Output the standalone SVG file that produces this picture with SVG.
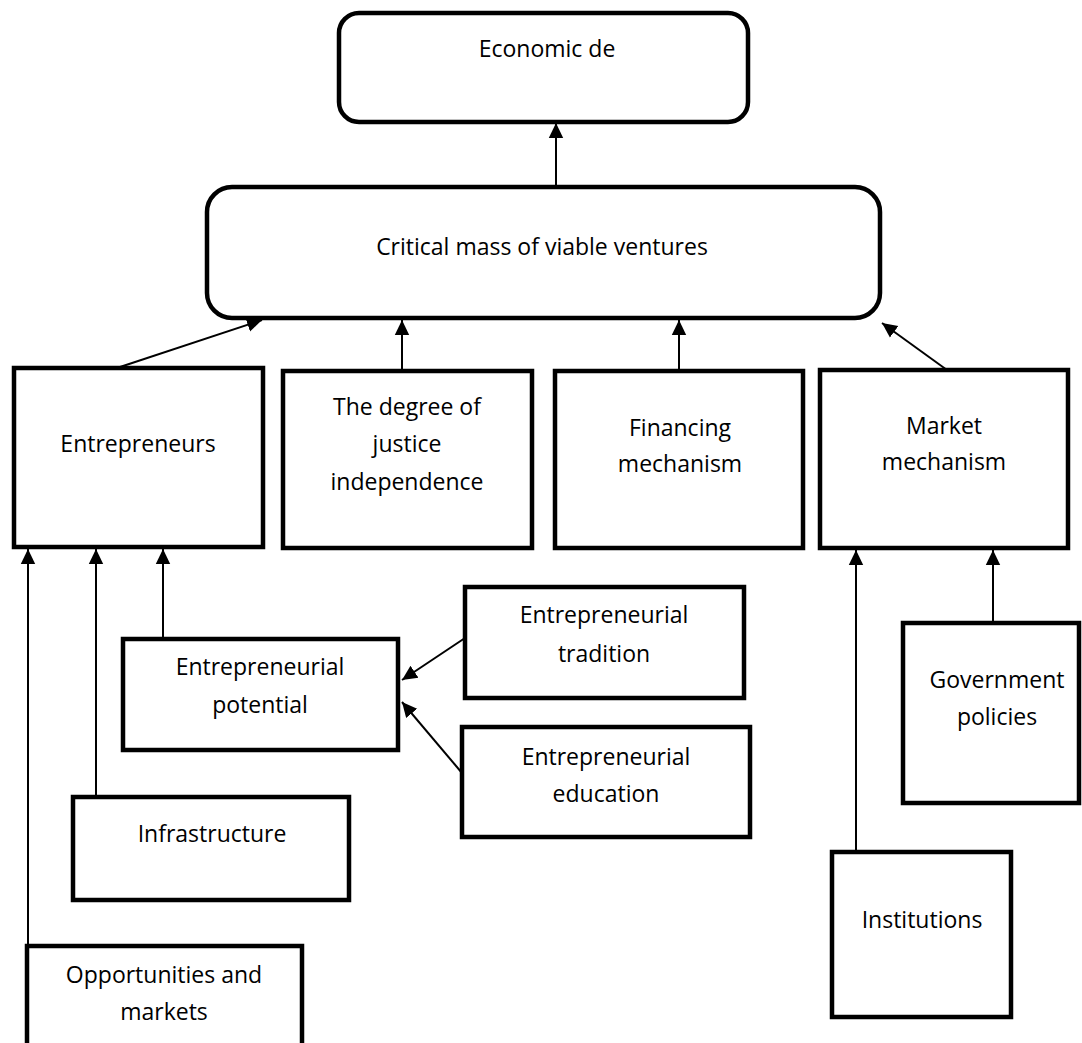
<svg xmlns="http://www.w3.org/2000/svg" width="1082" height="1043" viewBox="0 0 1082 1043">
<style>
.box{fill:#fff;stroke:#000;stroke-width:4.5}
.lbl{font-family:"Open Sans","Liberation Sans",sans-serif;font-size:23px;fill:#000;text-anchor:middle}
.con{stroke:#000;stroke-width:2;fill:none;marker-end:url(#ah)}
</style>
<defs>
<marker id="ah" markerUnits="userSpaceOnUse" markerWidth="16" markerHeight="16" viewBox="0 0 16 16" refX="15" refY="8" orient="auto">
<path d="M0,0.8 L15,8 L0,15.2 Z" fill="#000"/>
</marker>
</defs>
<rect width="1082" height="1043" fill="#fff"/>
<g id="connectors">
<line class="con" x1="556" y1="186" x2="556" y2="123"/>
<line class="con" x1="120" y1="367" x2="262" y2="320"/>
<line class="con" x1="402" y1="371" x2="402" y2="320"/>
<line class="con" x1="679" y1="371" x2="679" y2="320"/>
<line class="con" x1="947" y1="370" x2="882" y2="323"/>
<line class="con" x1="28" y1="946" x2="28" y2="549"/>
<line class="con" x1="96" y1="797" x2="96" y2="549"/>
<line class="con" x1="163" y1="639" x2="163" y2="549"/>
<line class="con" x1="465" y1="638" x2="402" y2="680"/>
<line class="con" x1="462" y1="773" x2="402" y2="702"/>
<line class="con" x1="856" y1="852" x2="856" y2="550"/>
<line class="con" x1="993" y1="622" x2="993" y2="550"/>
</g>
<g id="economic">
<rect class="box" x="339" y="13" width="409" height="109" rx="20"/>
<text class="lbl" x="547" y="57">Economic de</text>
</g>
<g id="critical">
<rect class="box" x="207" y="187" width="673" height="131" rx="25"/>
<text class="lbl" x="542" y="255">Critical mass of viable ventures</text>
</g>
<g id="entrepreneurs">
<rect class="box" x="14" y="368" width="249" height="179"/>
<text class="lbl" x="138" y="452">Entrepreneurs</text>
</g>
<g id="justice">
<rect class="box" x="283" y="371" width="249" height="177"/>
<text class="lbl" x="407" y="415">The degree of</text>
<text class="lbl" x="407" y="452">justice</text>
<text class="lbl" x="407" y="490">independence</text>
</g>
<g id="financing">
<rect class="box" x="555" y="371" width="248" height="177"/>
<text class="lbl" x="680" y="436">Financing</text>
<text class="lbl" x="680" y="472">mechanism</text>
</g>
<g id="market">
<rect class="box" x="820" y="370" width="248" height="178"/>
<text class="lbl" x="944" y="434">Market</text>
<text class="lbl" x="944" y="470">mechanism</text>
</g>
<g id="potential">
<rect class="box" x="123" y="639" width="275" height="111"/>
<text class="lbl" x="260" y="675">Entrepreneurial</text>
<text class="lbl" x="260" y="713">potential</text>
</g>
<g id="tradition">
<rect class="box" x="465" y="587" width="279" height="111"/>
<text class="lbl" x="604" y="623">Entrepreneurial</text>
<text class="lbl" x="604" y="662">tradition</text>
</g>
<g id="education">
<rect class="box" x="462" y="727" width="288" height="110"/>
<text class="lbl" x="606" y="765">Entrepreneurial</text>
<text class="lbl" x="606" y="802">education</text>
</g>
<g id="infrastructure">
<rect class="box" x="73" y="797" width="276" height="103"/>
<text class="lbl" x="212" y="842">Infrastructure</text>
</g>
<g id="opportunities">
<rect class="box" x="27" y="946" width="275" height="105"/>
<text class="lbl" x="164" y="983">Opportunities and</text>
<text class="lbl" x="164" y="1020">markets</text>
</g>
<g id="government">
<rect class="box" x="903" y="623" width="176" height="180"/>
<text class="lbl" x="997" y="688">Government</text>
<text class="lbl" x="997" y="725">policies</text>
</g>
<g id="institutions">
<rect class="box" x="832" y="852" width="179" height="165"/>
<text class="lbl" x="922" y="928">Institutions</text>
</g>
</svg>
